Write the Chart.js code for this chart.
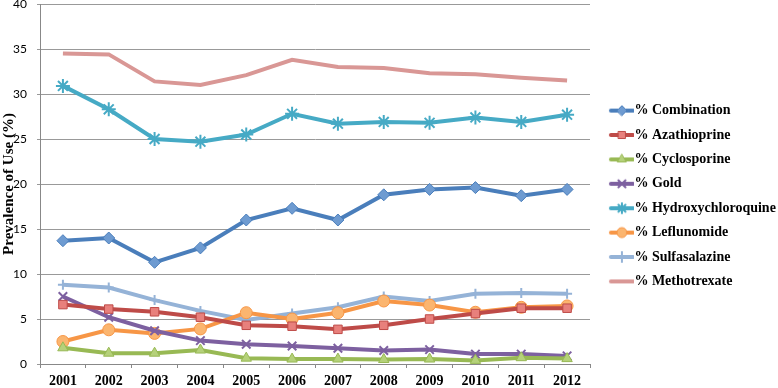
<!DOCTYPE html>
<html>
<head>
<meta charset="utf-8">
<script src="https://cdn.jsdelivr.net/npm/chart.js@4/dist/chart.umd.min.js"></script>
<style>
html,body{margin:0;padding:0;background:#fff;}
#wrap{width:778px;height:388px;position:relative;}
</style>
</head>
<body>
<div id="wrap"><canvas id="c" width="778" height="388"></canvas></div>
<script>
const categories = ['2001','2002','2003','2004','2005','2006','2007','2008','2009','2010','2011','2012'];
const combination = [13.7,14.0,11.3,12.9,16.0,17.3,16.0,18.8,19.4,19.6,18.7,19.4];
const azathioprine = [6.6,6.1,5.8,5.2,4.3,4.2,3.85,4.3,5.0,5.6,6.2,6.2];
const cyclosporine = [1.8,1.2,1.2,1.55,0.65,0.55,0.55,0.5,0.55,0.4,0.7,0.6];
const gold = [7.5,5.2,3.7,2.6,2.2,2.0,1.75,1.5,1.6,1.1,1.1,0.9];
const hydroxychloroquine = [30.9,28.3,25.0,24.7,25.5,27.8,26.7,26.9,26.8,27.4,26.9,27.7];
const leflunomide = [2.5,3.8,3.4,3.9,5.7,5.0,5.7,7.0,6.55,5.75,6.3,6.45];
const sulfasalazine = [8.8,8.5,7.1,5.9,4.9,5.6,6.3,7.5,7.0,7.8,7.9,7.8];
const methotrexate = [34.5,34.4,31.4,31.0,32.1,33.8,33.0,32.9,32.3,32.2,31.8,31.5];
const yTicks = [0,5,10,15,20,25,30,35,40];

function ds(label, data, line, fill, style, radius) {
  return {
    label, data,
    borderColor: line, backgroundColor: line,
    borderWidth: 4, tension: 0,
    pointStyle: style || false,
    pointRadius: style ? radius : 0,
    pointHoverRadius: style ? radius : 0,
    pointBackgroundColor: fill,
    pointBorderColor: line,
    pointBorderWidth: (style === 'crossRot' || style === 'star' || style === 'cross') ? 2 : 1
  };
}

const datasets = [
  ds('% Combination', combination, '#4A7EBB', '#6E9BD1', 'rectRot', 6),
  ds('% Azathioprine', azathioprine, '#BE4B48', '#E8807C', 'rect', 6),
  ds('% Cyclosporine', cyclosporine, '#98B954', '#B5D17A', 'triangle', 6),
  ds('% Gold', gold, '#7D60A0', '#9F86BE', 'crossRot', 6),
  ds('% Hydroxychloroquine', hydroxychloroquine, '#46AAC5', '#7FCADB', 'star', 7),
  ds('% Leflunomide', leflunomide, '#F79646', '#FBB56F', 'circle', 6),
  ds('% Sulfasalazine', sulfasalazine, '#95B3D7', '#B9CDE5', 'cross', 5),
  ds('% Methotrexate', methotrexate, '#D99795', '#D99795', null, 0)
];

function icon(d) {
  const cv = document.createElement('canvas');
  cv.width = 40; cv.height = 14;
  const ctx = cv.getContext('2d');
  ctx.strokeStyle = d.borderColor; ctx.lineWidth = 4; ctx.lineCap = 'round';
  ctx.beginPath(); ctx.moveTo(17, 7); ctx.lineTo(39, 7); ctx.stroke();
  if (d.pointStyle) {
    ctx.fillStyle = d.pointBackgroundColor; ctx.strokeStyle = d.pointBorderColor;
    ctx.lineWidth = d.pointBorderWidth;
    Chart.helpers.drawPoint(ctx, {pointStyle: d.pointStyle, radius: 5, rotation: 0, borderWidth: d.pointBorderWidth}, 28, 7);
  }
  return cv;
}

const chart = new Chart(document.getElementById('c'), {
  type: 'line',
  data: { labels: categories, datasets },
  options: {
    responsive: false,
    animation: false,
    devicePixelRatio: 1,
    layout: { autoPadding: false, padding: { top: 4, left: 0, right: 0, bottom: 0 } },
    plugins: {
      tooltip: { enabled: false },
      legend: {
        position: 'right',
        align: 'center',
        labels: {
          usePointStyle: true,
          pointStyleWidth: 27,
          color: '#000',
          padding: 10.4,
          font: { family: 'Liberation Serif', size: 14, weight: 'bold' },
          generateLabels: (chart) => chart.data.datasets.map((d, i) => ({
            text: d.label, pointStyle: icon(d), fillStyle: d.borderColor,
            strokeStyle: d.borderColor, lineWidth: 0, hidden: false, datasetIndex: i, fontColor: '#000'
          }))
        }
      }
    },
    scales: {
      x: {
        offset: true,
        afterFit: (s) => { s.height = 24; },
        grid: { display: true, drawOnChartArea: false, offset: true, color: '#888', tickLength: 4 },
        border: { color: '#888', width: 1 },
        ticks: { color: '#000', font: { family: 'Liberation Serif', size: 14, weight: 'bold' }, padding: 5, maxRotation: 0 }
      },
      y: {
        min: 0, max: 40,
        afterBuildTicks: (s) => { s.ticks = yTicks.map(v => ({ value: v })); },
        afterFit: (s) => { s.width = 40; s.paddingTop = 0; s.paddingBottom = 0; },
        grid: { color: '#999', lineWidth: 1, tickLength: 3 },
        border: { color: '#888' },
        ticks: { color: '#000', font: { family: 'Lato', size: 12 }, padding: 10 },
        title: { display: true, text: 'Prevalence of Use (%)', color: '#000', font: { family: 'Liberation Serif', size: 15, weight: 'bold' }, padding: 0 }
      }
    }
  }
});
const lg = chart.legend;
const origFit = lg.fit.bind(lg);
lg.fit = function () { origFit(); this.width = 188; };
chart.update();
</script>
</body>
</html>
